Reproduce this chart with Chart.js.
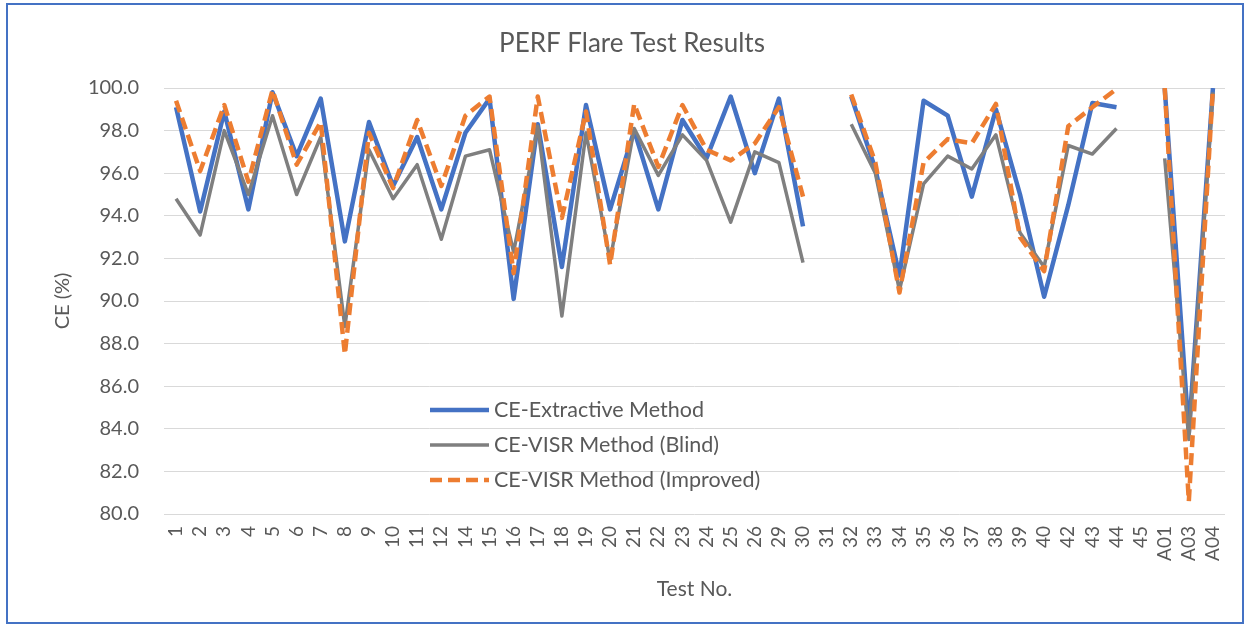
<!DOCTYPE html>
<html>
<head>
<meta charset="utf-8">
<title>PERF Flare Test Results</title>
<script src="https://cdn.jsdelivr.net/npm/chart.js@4/dist/chart.umd.min.js"></script>
<style>
  body { margin: 0; background: #fff; }
  #wrap { width: 1250px; height: 628px; }
</style>
</head>
<body>
<div id="wrap"><canvas id="myChart" width="1250" height="628"></canvas></div>
<script>
var testNo = ['1','2','3','4','5','6','7','8','9','10','11','12','14','15','16','17','18','19','20','21','22',
  '23','24','25','26','29','30','31','32','33','34','35','36','37','38','39','40','42','43','44','45','A01','A03','A04'];

var ceExtractive = [99.1, 94.2, 98.9, 94.3, 99.8, 96.8, 99.5, 92.8, 98.4, 95.4, 97.7, 94.3, 97.9, 99.5, 90.1,
  98.3, 91.6, 99.2, 94.3, 98.0, 94.3, 98.5, 96.7, 99.6, 96.0, 99.5, 93.5, null, 99.6, 96.2, 91.2, 99.4, 98.7,
  94.9, 99.0, 95.0, 90.2, 94.5, 99.3, 99.1, null, 100.0, 83.8, 100.0];

var ceBlind = [94.8, 93.1, 98.0, 95.0, 98.7, 95.0, 97.7, 88.8, 97.1, 94.8, 96.4, 92.9, 96.8, 97.1, 92.3,
  98.2, 89.3, 97.9, 91.9, 98.1, 95.9, 97.8, 96.6, 93.7, 97.0, 96.5, 91.8, null, 98.3, 96.0, 90.5, 95.5, 96.8,
  96.2, 97.8, 93.2, 91.6, 97.3, 96.9, 98.1, null, 96.7, 83.5, 99.8];

var ceImproved = [99.4, 96.1, 99.2, 95.6, 99.9, 96.4, 98.4, 87.5, 97.9, 95.3, 98.5, 95.4, 98.7, 99.6, 91.3,
  99.6, 93.9, 98.9, 91.7, 99.25, 96.3, 99.2, 97.1, 96.6, 97.4, 99.1, 94.9, null, 99.7, 96.5, 90.4, 96.5, 97.6,
  97.4, 99.25, 93.0, 91.4, 98.2, 99.1, 99.95, null, 100.0, 80.6, 100.0];

var textColor = '#595959';
var fontName = 'Lato, "Open Sans", sans-serif';

// frame, title and in-plot legend
var decor = {
  id: 'decor',
  beforeDraw: function(chart) {
    var ctx = chart.ctx;
    ctx.save();
    ctx.fillStyle = '#fff';
    ctx.fillRect(0, 0, chart.width, chart.height);
    ctx.restore();
  },
  afterDraw: function(chart) {
    var ctx = chart.ctx;
    ctx.save();
    ctx.strokeStyle = '#4472C4';
    ctx.lineWidth = 2;
    ctx.strokeRect(7, 4, 1236, 619);

    ctx.fillStyle = textColor;
    ctx.font = '26px ' + fontName;
    ctx.textAlign = 'center';
    ctx.textBaseline = 'middle';
    ctx.fillText('PERF Flare Test Results', 632, 44);

    ctx.font = '21.5px ' + fontName;
    ctx.textAlign = 'left';
    chart.data.datasets.forEach(function(ds, i) {
      var y = 410 + i * 35;
      ctx.beginPath();
      ctx.strokeStyle = ds.borderColor;
      ctx.lineWidth = ds.borderWidth;
      ctx.setLineDash(ds.borderDash || []);
      ctx.moveTo(430, y);
      ctx.lineTo(489, y);
      ctx.stroke();
      ctx.setLineDash([]);
      ctx.fillStyle = textColor;
      ctx.fillText(ds.label, 494, y);
    });
    ctx.restore();
  }
};

var ctx = document.getElementById('myChart').getContext('2d');
var myChart = new Chart(ctx, {
  type: 'line',
  data: {
    labels: testNo,
    datasets: [
      { label: 'CE-Extractive Method', data: ceExtractive, borderColor: '#4472C4', borderWidth: 4.5, order: 3 },
      { label: 'CE-VISR Method (Blind)', data: ceBlind, borderColor: '#7F7F7F', borderWidth: 3.5, order: 2 },
      { label: 'CE-VISR Method (Improved)', data: ceImproved, borderColor: '#ED7D31', borderWidth: 4.5,
        borderDash: [12, 6], order: 1 }
    ]
  },
  options: {
    responsive: false,
    animation: false,
    devicePixelRatio: 1,
    layout: { padding: { top: 88, right: 25, bottom: 0, left: 0 } },
    elements: {
      point: { radius: 0, hoverRadius: 0 },
      line: { tension: 0, fill: false, borderJoinStyle: 'round' }
    },
    spanGaps: false,
    plugins: {
      legend: { display: false },
      title: { display: false },
      tooltip: { enabled: false }
    },
    scales: {
      x: {
        offset: true,
        grid: { display: false, drawTicks: false },
        border: { display: false },
        ticks: {
          autoSkip: false, maxRotation: 90, minRotation: 90, padding: 12,
          color: textColor, font: { family: fontName, size: 19 }
        },
        title: {
          display: true, text: 'Test No.', color: textColor,
          font: { family: fontName, size: 21 }, padding: { top: 0, bottom: 26 }
        },
        afterFit: function(scale) { scale.height = 114; }
      },
      y: {
        min: 80, max: 100,
        grid: { color: '#D9D9D9', lineWidth: 1, drawTicks: false },
        border: { display: false },
        ticks: {
          stepSize: 2, padding: 25, color: textColor,
          font: { family: fontName, size: 20 },
          callback: function(v) { return v.toFixed(1); }
        },
        title: {
          display: true, text: 'CE (%)', color: textColor,
          font: { family: fontName, size: 20 }, padding: { top: 51, bottom: 0 }
        },
        afterFit: function(scale) { scale.width = 164; }
      }
    }
  },
  plugins: [decor]
});
</script>
</body>
</html>
